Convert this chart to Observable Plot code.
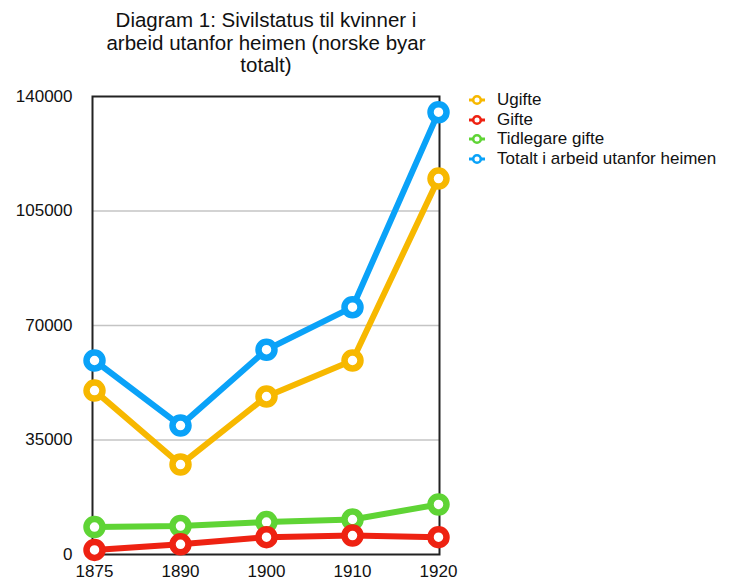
<!DOCTYPE html>
<html>
<head>
<meta charset="utf-8">
<script src="https://cdn.jsdelivr.net/npm/d3@7"></script>
<script src="https://cdn.jsdelivr.net/npm/@observablehq/plot@0.6"></script>
<style>
  body { margin: 0; background: #fff; font-family: "Liberation Sans", Arial, sans-serif; }
  #wrap { position: relative; width: 737px; height: 580px; }
  #title { position: absolute; left: 66px; width: 400px; top: 9px; text-align: center; font-size: 20.5px; line-height: 22.5px; color: #111; white-space: nowrap; }
  #legend { position: absolute; left: 468px; top: 90px; font-size: 17px; color: #111; }
  .item { display: flex; align-items: center; height: 19.7px; white-space: nowrap; }
  .item svg { margin-right: 11px; }
  svg text { font-size: 17px; }
</style>
</head>
<body>
<div id="wrap">
  <div id="chart"></div>
  <div id="title">Diagram 1: Sivilstatus til kvinner i<br>arbeid utanfor heimen (norske byar<br>totalt)</div>
  <div id="legend"></div>
</div>
<script>
const years = ["1875", "1890", "1900", "1910", "1920"];
const seriesNames = ["Ugifte", "Gifte", "Tidlegare gifte", "Totalt i arbeid utanfor heimen"];
const ugifte = [50100, 27500, 48300, 59300, 114900];
const gifte = [1400, 3100, 5300, 5800, 5300];
const tidlegareGifte = [8400, 8700, 9900, 10700, 15300];
const totalt = [59300, 39400, 62600, 75600, 135200];
const colors = ["#f7b800", "#ee2212", "#5fd435", "#0aa2f8"];
const yTicks = [0, 35000, 70000, 105000, 140000];
const gridTicks = [35000, 70000, 105000];

const seriesValues = [ugifte, gifte, tidlegareGifte, totalt];
const rows = seriesNames.flatMap((name, i) => years.map((yr, j) => ({ name, year: yr, value: seriesValues[i][j] })));
const drawOrder = ["Tidlegare gifte", "Gifte", "Ugifte", "Totalt i arbeid utanfor heimen"];

const marks = [
  Plot.ruleY(gridTicks, { stroke: "#c4c4c4", strokeWidth: 1.5 }),
  Plot.frame({ stroke: "#222", strokeWidth: 2 }),
  Plot.axisY({ ticks: yTicks, tickSize: 0, tickPadding: 20, tickFormat: d3.format("d"), label: null }),
  Plot.axisX({ tickSize: 0, tickPadding: 10, label: null })
];
for (const name of drawOrder) {
  const c = colors[seriesNames.indexOf(name)];
  const d = rows.filter(r => r.name === name);
  marks.push(Plot.line(d, { x: "year", y: "value", stroke: c, strokeWidth: 6, strokeLinejoin: "round", strokeLinecap: "round" }));
  marks.push(Plot.dot(d, { x: "year", y: "value", r: 8, fill: "white", stroke: c, strokeWidth: 6.5 }));
}

const chart = Plot.plot({
  width: 737,
  height: 580,
  marginLeft: 92,
  marginRight: 298,
  marginTop: 96,
  marginBottom: 26,
  style: { fontFamily: "'Liberation Sans', Arial, sans-serif", fontSize: "17px", color: "#111", background: "white" },
  x: { type: "point", domain: years, padding: 0 },
  y: { domain: [0, 140000] },
  marks
});
document.getElementById("chart").appendChild(chart);

const legend = document.getElementById("legend");
seriesNames.forEach((name, i) => {
  const div = document.createElement("div");
  div.className = "item";
  div.innerHTML = `<svg width="18" height="12"><line x1="1" y1="6" x2="17" y2="6" stroke="${colors[i]}" stroke-width="3"/><circle cx="9" cy="6" r="3.8" fill="white" stroke="${colors[i]}" stroke-width="2.6"/></svg><span>${name}</span>`;
  legend.appendChild(div);
});
</script>
</body>
</html>
